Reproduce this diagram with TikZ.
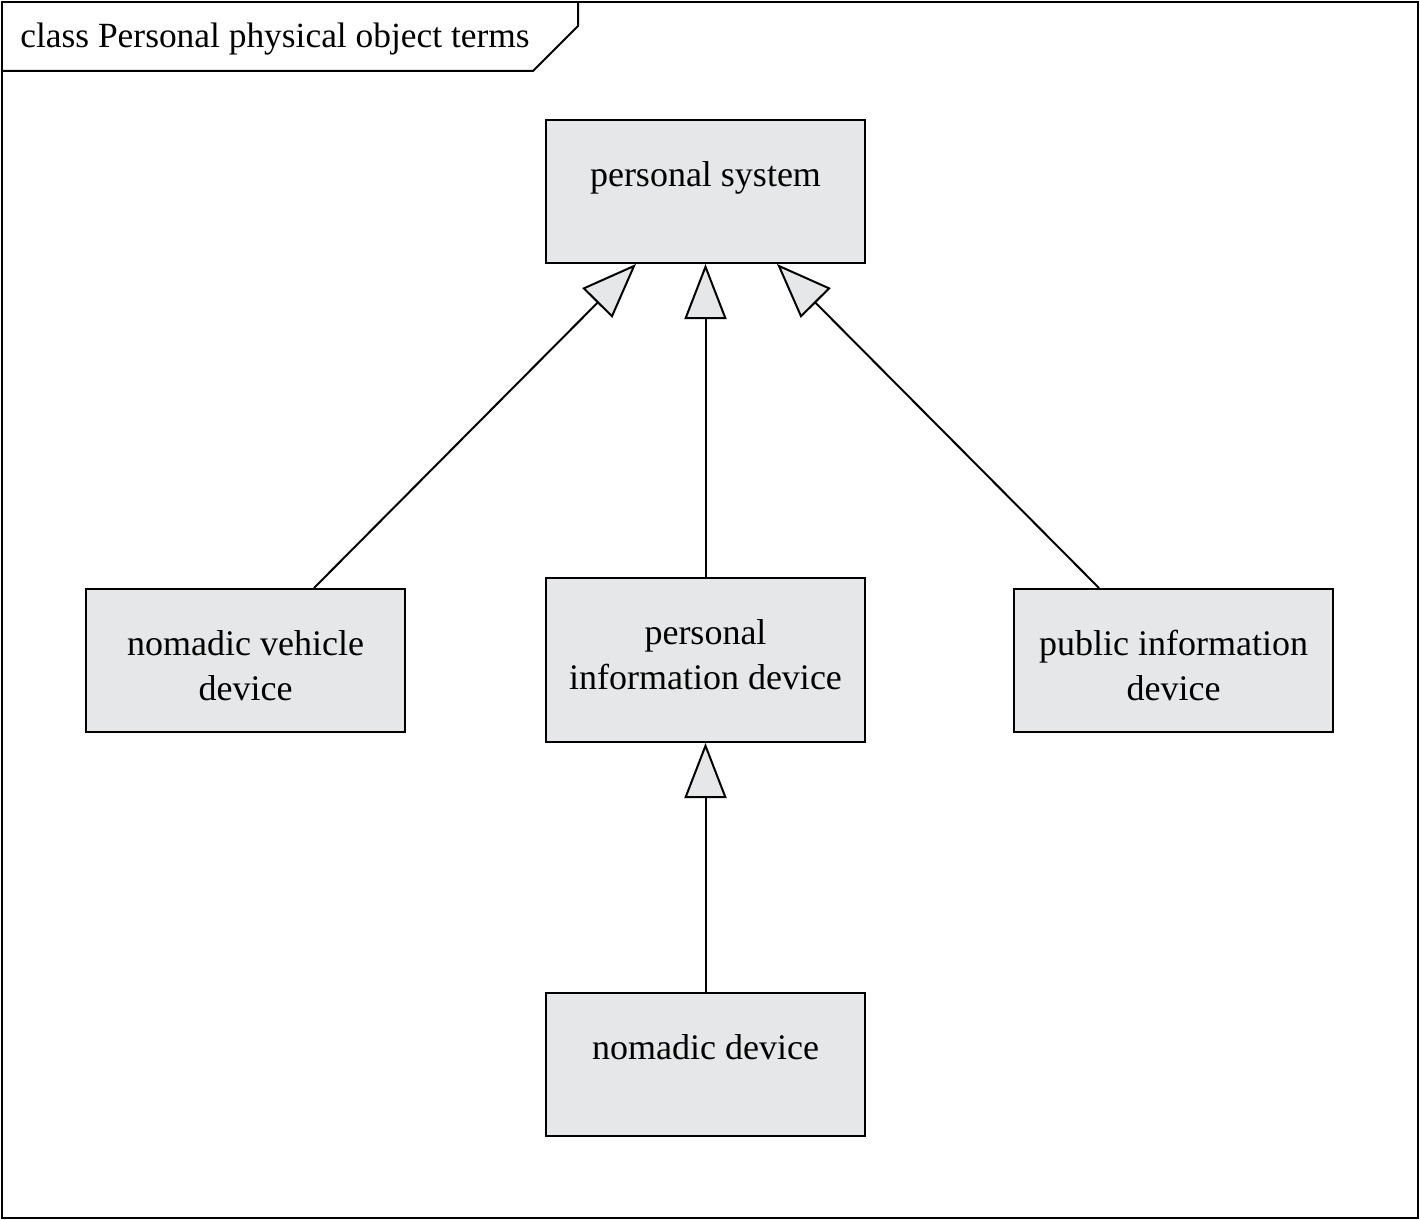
\documentclass[tikz,border=0pt]{standalone}
\usepackage{fontspec}
\setmainfont{Liberation Serif}
\usetikzlibrary{arrows.meta}
\definecolor{boxgray}{HTML}{E6E7E8}
\tikzset{
  cls/.style={draw, line width=1pt, fill=boxgray, minimum width=159.5pt, minimum height=71.5pt, inner sep=0pt},
  clsname/.style={anchor=north, align=center, inner sep=0pt, font=\fontsize{18}{22.5}\selectfont},
  gen/.style={line width=1pt, -{Triangle[width=21pt,length=27.5pt,fill=boxgray]}}
}
\begin{document}
\begin{tikzpicture}[x=0.5pt,y=-0.5pt]
\useasboundingbox (0,0) rectangle (1420,1220);
%%% frame and name tab
\draw[line width=1pt] (2,2) rectangle (1418,1218);
\node[anchor=base west, inner sep=0pt, font=\fontsize{17.7}{22}\selectfont] (title) at (20,48) {class Personal physical object terms};
\draw[line width=1pt] (2,71) -- (533,71) -- (578,26) -- (578,2);
%%% the classes
\node[cls] (ps) at (705.5,191.5) {};
\node[clsname] (pst) at ([yshift=-21pt]ps.north) {personal system};
\node[cls] (nvd) at (245.5,660.5) {};
\node[clsname] (nvdt) at ([yshift=-21pt]nvd.north) {nomadic vehicle\\device};
\node[cls, minimum height=82pt] (pdev) at (705.5,660) {};
\node[clsname] (pdevt) at ([yshift=-21pt]pdev.north) {personal\\information device};
\node[cls] (pid) at (1173.5,660.5) {};
\node[clsname] (pidt) at ([yshift=-21pt]pid.north) {public information\\device};
\node[cls] (nd) at (705.5,1064.5) {};
\node[clsname] (ndt) at ([yshift=-21pt]nd.north) {nomadic device};
%%% generalizations
\draw[gen] (pdev.north) -- (ps.south);
\draw[gen] ([xshift=34.25pt]nvd.north) -- ([xshift=-34.75pt]ps.south);
\draw[gen] ([xshift=-37.25pt]pid.north) -- ([xshift=35.75pt]ps.south);
\draw[gen] (nd.north) -- (pdev.south);
\end{tikzpicture}
\end{document}
